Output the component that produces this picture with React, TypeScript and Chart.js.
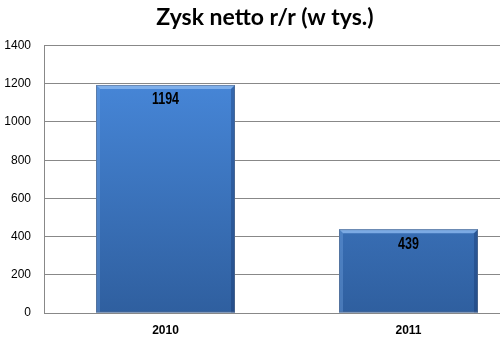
import React, { useEffect, useRef } from "react";
import { Chart, registerables } from "chart.js";

Chart.register(...registerables);

const categories = ["2010", "2011"];
const values = [1194, 439];
const yTicks = [0, 200, 400, 600, 800, 1000, 1200, 1400];
const titleText = "Zysk netto r/r (w tys.)";

const valueLabels = {
  id: "valueLabels",
  afterDatasetsDraw(chart: any) {
    const ctx = chart.ctx;
    const meta = chart.getDatasetMeta(0);
    meta.data.forEach((bar: any, i: number) => {
      ctx.save();
      ctx.font = "bold 16px 'Liberation Sans', Arial, sans-serif";
      ctx.fillStyle = "#000";
      ctx.textAlign = "center";
      ctx.textBaseline = "middle";
      ctx.translate(bar.x, bar.y + 15);
      ctx.scale(0.78, 1);
      ctx.fillText(String(values[i]), 0, 0);
      ctx.restore();
    });
  },
};

const barShade = {
  id: "barShade",
  afterDatasetsDraw(chart: any) {
    const ctx = chart.ctx;
    const meta = chart.getDatasetMeta(0);
    ctx.save();
    meta.data.forEach((bar: any) => {
      const left = bar.x - bar.width / 2;
      const right = bar.x + bar.width / 2;
      const top = bar.y;
      const bottom = bar.base;
      ctx.fillStyle = "rgba(140,185,240,0.8)";
      ctx.beginPath();
      ctx.moveTo(left, top);
      ctx.lineTo(right, top);
      ctx.lineTo(right - 4, top + 4);
      ctx.lineTo(left + 4, top + 4);
      ctx.closePath();
      ctx.fill();
      ctx.fillStyle = "rgba(20,50,100,0.35)";
      ctx.beginPath();
      ctx.moveTo(right, top);
      ctx.lineTo(right, bottom);
      ctx.lineTo(right - 4, bottom);
      ctx.lineTo(right - 4, top + 4);
      ctx.closePath();
      ctx.fill();
      ctx.fillStyle = "rgba(120,170,230,0.35)";
      ctx.beginPath();
      ctx.moveTo(left, top);
      ctx.lineTo(left + 4, top + 4);
      ctx.lineTo(left + 4, bottom);
      ctx.lineTo(left, bottom);
      ctx.closePath();
      ctx.fill();
      ctx.strokeStyle = "rgba(90,110,140,0.6)";
      ctx.lineWidth = 1;
      ctx.strokeRect(left + 0.5, top + 0.5, bar.width - 1, bottom - top - 1);
    });
    ctx.restore();
  },
};

export default function App() {
  const ref = useRef<HTMLCanvasElement>(null);
  useEffect(() => {
    document.body.style.overflow = "hidden";
    const chart = new Chart(ref.current!, {
      type: "bar",
      data: {
        labels: categories,
        datasets: [
          {
            data: values,
            backgroundColor: (c: any) => {
              const area = c.chart.chartArea;
              if (!area) return "#3f7ccc";
              const g = c.chart.ctx.createLinearGradient(0, area.top, 0, area.bottom);
              g.addColorStop(0, "#4a8ce0");
              g.addColorStop(1, "#2f5f9f");
              return g;
            },
            borderWidth: 0,
            barPercentage: 0.572,
            categoryPercentage: 1,
          },
        ],
      },
      options: {
        animation: false,
        responsive: false,
        maintainAspectRatio: false,
        layout: { padding: { left: 0, right: 10, top: 0, bottom: 0 } },
        plugins: {
          legend: { display: false },
          tooltip: { enabled: false },
          title: {
            display: true,
            text: titleText,
            color: "#000",
            font: { family: "Lato, 'Open Sans', sans-serif", size: 23, weight: "bold" },
            padding: { top: 4, bottom: 14 },
          },
        },
        scales: {
          x: {
            grid: { display: false, drawTicks: false },
            border: { color: "#888", width: 1 },
            ticks: {
              color: "#000",
              font: { family: "'Liberation Sans', Arial, sans-serif", size: 12, weight: "bold" },
              padding: 10,
            },
            afterFit(s: any) {
              s.height = 29;
            },
          },
          y: {
            min: 0,
            max: 1400,
            afterBuildTicks(s: any) {
              s.ticks = yTicks.map((v) => ({ value: v }));
            },
            grid: { color: "#888", drawTicks: false, lineWidth: 1 },
            border: { color: "#888", width: 1 },
            ticks: {
              color: "#000",
              font: { family: "'Liberation Sans', Arial, sans-serif", size: 12 },
              padding: 13,
              callback: (v: any) => String(v),
            },
            afterFit(s: any) {
              s.width = 44;
            },
          },
        },
      },
      plugins: [barShade, valueLabels],
    });
    return () => chart.destroy();
  }, []);
  return (
    <div style={{ position: "fixed", left: 0, top: 0, width: 500, height: 342, overflow: "hidden", background: "#fff" }}>
      <canvas ref={ref} width={540} height={342} style={{ display: "block" }} />
    </div>
  );
}
